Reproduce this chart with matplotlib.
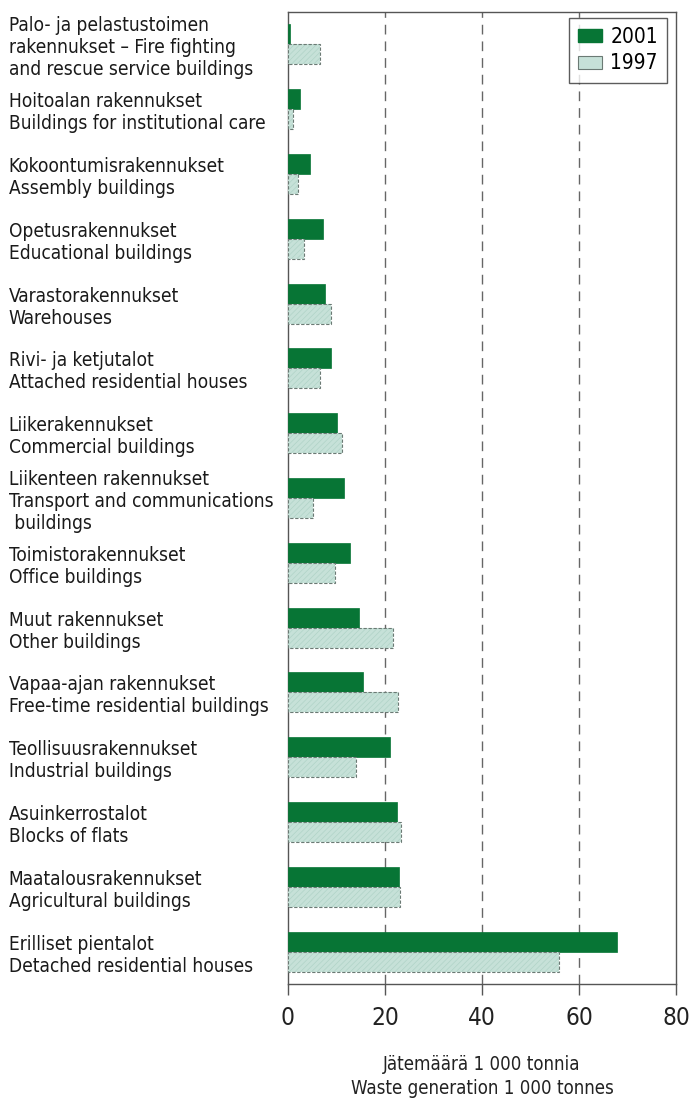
import os
import numpy as np
import matplotlib.pyplot as plt
from matplotlib import font_manager
from matplotlib.patches import Patch

# look for a narrow face (the original uses a condensed grotesk), else Roboto
narrow = None
for f in font_manager.fontManager.ttflist:
    base = os.path.basename(f.fname).lower()
    if ('narrow' in base or 'condensed' in base) and 'bold' not in base \
            and 'italic' not in base and 'oblique' not in base and 'mono' not in base:
        if narrow is None or 'liberation' in base:
            narrow = f
if narrow is not None:
    plt.rcParams['font.family'] = [narrow.name, 'Roboto', 'DejaVu Sans']
    plt.rcParams['font.stretch'] = narrow.stretch
    lab_size, xl_size, leg_size, tick_size = 13.7, 13.4, 15, 17.5
else:
    plt.rcParams['font.family'] = ['Roboto', 'DejaVu Sans']
    lab_size, xl_size, leg_size, tick_size = 13.6, 12.5, 14, 16

categories = [
    "Palo- ja pelastustoimen\nrakennukset – Fire fighting\nand rescue service buildings",
    "Hoitoalan rakennukset\nBuildings for institutional care",
    "Kokoontumisrakennukset\nAssembly buildings",
    "Opetusrakennukset\nEducational buildings",
    "Varastorakennukset\nWarehouses",
    "Rivi- ja ketjutalot\nAttached residential houses",
    "Liikerakennukset\nCommercial buildings",
    "Liikenteen rakennukset\nTransport and communications\n buildings",
    "Toimistorakennukset\nOffice buildings",
    "Muut rakennukset\nOther buildings",
    "Vapaa-ajan rakennukset\nFree-time residential buildings",
    "Teollisuusrakennukset\nIndustrial buildings",
    "Asuinkerrostalot\nBlocks of flats",
    "Maatalousrakennukset\nAgricultural buildings",
    "Erilliset pientalot\nDetached residential houses",
]
values_2001 = [0.4, 2.5, 4.5, 7.2, 7.7, 8.9, 10.2, 11.5, 12.8, 14.6, 15.5, 21.0, 22.5, 22.8, 67.8]
values_1997 = [6.6, 1.0, 2.0, 3.2, 8.8, 6.7, 11.1, 5.2, 9.7, 21.6, 22.7, 14.0, 23.2, 23.0, 55.9]
series_labels = ["2001", "1997"]
x_ticks = [0, 20, 40, 60, 80]
x_label = "Jätemäärä 1 000 tonnia\nWaste generation 1 000 tonnes"

dark = '#077535'
light = '#c6e1d8'
outline = '#6b7a74'

fig = plt.figure(figsize=(6.91, 11), dpi=100)
ax = fig.add_axes([288 / 691, 1 - 984 / 1100, (676 - 288) / 691, (984 - 12) / 1100])

y = np.arange(len(categories))
h = 0.31

ax.barh(y - h / 2, values_2001, height=h, color=dark, edgecolor=dark, linewidth=0.5, zorder=3)
# light bars: hatched fill, then a dashed outline on top
plt.rcParams['hatch.linewidth'] = 0.5
ax.barh(y + h / 2, values_1997, height=h, color=light, edgecolor='#b0d3c7', hatch='//////',
        linewidth=0, zorder=3)
ax.barh(y + h / 2, values_1997, height=h, fill=False, edgecolor=outline, linewidth=0.8,
        linestyle=(0, (3, 1.5)), zorder=4)

ax.set_xlim(0, 80)
ax.set_ylim(len(categories) - 0.5, -0.5)

for gx in x_ticks[1:-1]:
    ax.axvline(gx, color='#666666', linewidth=1.0, linestyle=(0, (7, 5)), zorder=1)

ax.set_xticks(x_ticks)
ax.set_xticklabels([str(t) for t in x_ticks], fontsize=tick_size, color='#222222')
ax.tick_params(axis='x', direction='out', length=8, width=1, color='#555555', pad=8)

ax.set_yticks(y)
ax.set_yticklabels(categories, fontsize=lab_size, color='#1a1a1a')
ax.tick_params(axis='y', length=0, pad=201)
for lbl in ax.get_yticklabels():
    lbl.set_horizontalalignment('left')
    lbl.set_linespacing(1.2)

for s in ax.spines.values():
    s.set_color('#555555')
    s.set_linewidth(1.0)

ax.set_xlabel(x_label, fontsize=xl_size, color='#222222', labelpad=18, linespacing=1.3)

handles = [Patch(facecolor=dark, edgecolor=dark),
           Patch(facecolor=light, edgecolor=outline, linewidth=0.8)]
leg = ax.legend(handles, series_labels, loc='upper right', bbox_to_anchor=(0.978, 0.994),
                fontsize=leg_size, frameon=True, fancybox=False, handlelength=1.15,
                handleheight=0.58, handletextpad=0.4, borderpad=0.45, labelspacing=0.3,
                borderaxespad=0)
leg.get_frame().set_edgecolor('#333333')
leg.get_frame().set_linewidth(1.0)

fig.savefig('out.png', dpi=100)
